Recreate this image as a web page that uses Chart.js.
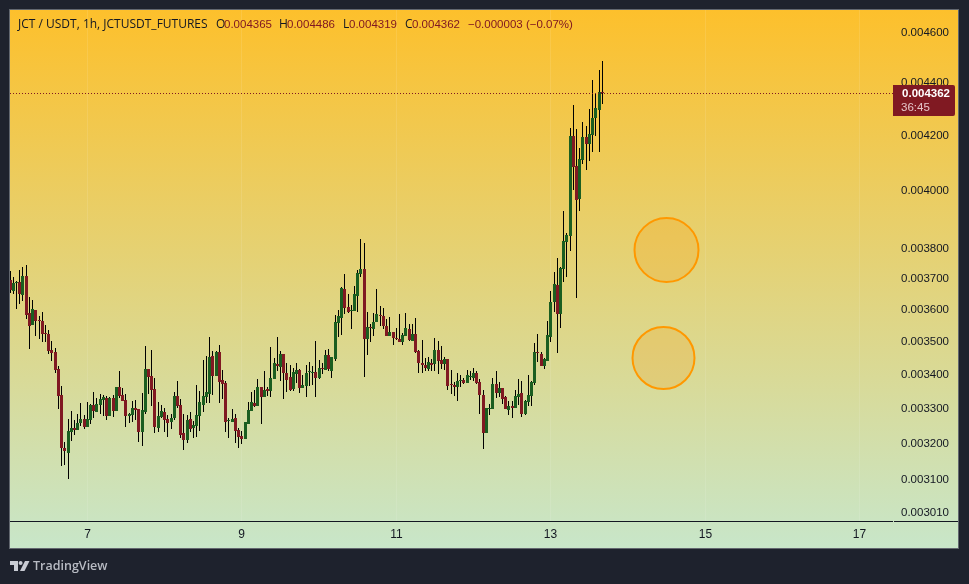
<!DOCTYPE html>
<html>
<head>
<meta charset="utf-8">
<title>JCT / USDT 1h</title>
<script src="https://cdn.jsdelivr.net/npm/chart.js@4"></script>
<style>
  html, body { margin: 0; padding: 0; background: #1e222d; overflow: hidden; }
  canvas { display: block; }
</style>
</head>
<body>
<canvas id="priceChart" width="969" height="584"></canvas>
<script>
// Hourly candles in millionths of a USDT, first candle opens on day 6 at 00:00
const opens = [
  3698,3663,3688,3692,3650,3711,3592,3554,3601,3571,
  3567,3529,3526,3476,3470,3419,3341,3189,3174,3233,
  3245,3239,3259,3271,3248,3268,3311,3291,3311,3326,
  3332,3279,3332,3294,3365,3341,3326,3279,3282,3303,
  3300,3233,3291,3419,3398,3359,3245,3276,3291,3271,
  3262,3274,3338,3311,3231,3211,3271,3245,3251,3279,
  3311,3335,3344,3458,3398,3470,3386,3377,3265,3262,
  3274,3239,3222,3214,3256,3294,3317,3309,3365,3335,
  3359,3353,3389,3434,3425,3464,3407,3395,3359,3404,
  3416,3362,3368,3410,3407,3410,3392,3422,3416,3461,
  3413,3449,3561,3576,3669,3610,3598,3598,3646,3718,
  3734,3510,3548,3541,3564,3586,3583,3551,3520,3532,
  3513,3510,3501,3520,3541,3504,3526,3473,3437,3431,
  3419,3437,3434,3476,3446,3434,3449,3374,3371,3365,
  3383,3386,3377,3395,3392,3407,3380,3341,3231,3300,
  3300,3374,3347,3362,3335,3297,3309,3303,3335,3347,
  3285,3320,3338,3377,3470,3464,3428,3443,3516,3627,
  3682,3589,3734,3824,3845,4200,4090,3972,4112,4196,
  4170,4204,4268,4298,4365
];
const highs = [
  3728,3707,3696,3731,3740,3747,3643,3633,3601,3583,
  3595,3554,3538,3504,3482,3428,3368,3205,3271,3294,
  3268,3285,3317,3282,3320,3314,3350,3332,3344,3341,
  3338,3335,3341,3365,3413,3362,3344,3288,3323,3326,
  3300,3347,3488,3419,3476,3392,3320,3311,3303,3282,
  3285,3350,3383,3329,3285,3282,3291,3265,3371,3353,
  3446,3458,3516,3473,3473,3491,3416,3383,3274,3300,
  3285,3245,3236,3262,3320,3350,3356,3389,3365,3413,
  3365,3485,3452,3516,3473,3464,3437,3431,3422,3437,
  3419,3401,3431,3440,3428,3504,3446,3437,3476,3479,
  3455,3586,3601,3676,3718,3653,3617,3679,3731,3834,
  3821,3595,3557,3592,3669,3614,3607,3573,3579,3532,
  3545,3589,3529,3592,3557,3557,3576,3476,3507,3452,
  3455,3449,3513,3504,3488,3455,3449,3416,3380,3407,
  3401,3392,3416,3413,3422,3413,3389,3356,3303,3314,
  3392,3413,3380,3362,3338,3323,3323,3356,3389,3383,
  3326,3401,3383,3498,3526,3470,3452,3567,3663,3724,
  3771,3741,3931,3855,4230,4317,4226,4155,4252,4237,
  4302,4413,4362,4452,4486
];
const lows = [
  3655,3653,3604,3620,3631,3573,3479,3554,3520,3510,
  3501,3501,3464,3443,3407,3300,3138,3141,3102,3208,
  3225,3239,3251,3242,3248,3256,3274,3291,3285,3279,
  3268,3279,3276,3294,3332,3323,3248,3259,3262,3268,
  3205,3194,3285,3344,3309,3231,3233,3274,3233,3220,
  3242,3268,3303,3217,3183,3202,3233,3217,3220,3236,
  3291,3317,3317,3341,3398,3317,3329,3233,3217,3262,
  3202,3189,3200,3214,3256,3294,3306,3309,3256,3335,
  3338,3335,3389,3413,3383,3329,3350,3353,3353,3377,
  3347,3362,3335,3368,3371,3335,3389,3404,3416,3413,
  3392,3443,3516,3523,3589,3592,3541,3598,3595,3708,
  3395,3461,3501,3520,3564,3551,3541,3520,3520,3491,
  3507,3501,3491,3520,3504,3504,3467,3407,3407,3413,
  3413,3413,3413,3404,3419,3416,3356,3344,3338,3323,
  3365,3374,3377,3386,3383,3374,3285,3186,3231,3282,
  3300,3332,3335,3314,3300,3282,3274,3303,3311,3276,
  3282,3309,3309,3371,3440,3428,3419,3443,3501,3595,
  3467,3545,3692,3708,3795,4004,3640,3931,4098,4076,
  4108,4141,4200,4141,4319
];
const closes = [
  3664,3689,3692,3653,3711,3586,3551,3604,3568,3567,
  3526,3526,3473,3467,3416,3338,3189,3180,3236,3245,
  3239,3259,3271,3248,3271,3311,3294,3314,3329,3335,
  3279,3332,3294,3365,3338,3323,3279,3285,3303,3297,
  3233,3297,3419,3395,3356,3248,3279,3294,3268,3259,
  3274,3338,3309,3225,3211,3268,3242,3253,3282,3320,
  3338,3350,3455,3398,3470,3380,3374,3262,3268,3271,
  3236,3220,3214,3262,3297,3320,3309,3365,3335,3356,
  3353,3392,3437,3428,3464,3407,3386,3356,3410,3416,
  3362,3371,3407,3413,3410,3392,3422,3419,3461,3419,
  3455,3564,3583,3673,3607,3595,3601,3653,3721,3734,
  3510,3548,3545,3564,3589,3583,3551,3520,3532,3513,
  3510,3501,3523,3545,3507,3526,3470,3437,3431,3422,
  3440,3431,3476,3443,3434,3449,3368,3371,3365,3383,
  3386,3377,3401,3398,3407,3377,3341,3231,3303,3303,
  3374,3347,3362,3329,3300,3309,3303,3338,3344,3285,
  3323,3341,3380,3470,3467,3428,3449,3523,3627,3685,
  3589,3737,3828,3848,4200,4087,3969,4116,4196,4170,
  4207,4268,4306,4367,4362
];

const dayTicks = [7, 9, 11, 13, 15, 17];
const priceTicks = [0.0046, 0.0044, 0.0042, 0.004, 0.0038, 0.0037, 0.0036, 0.0035, 0.0034, 0.0033, 0.0032, 0.0031, 0.00301];

// Highlighted zones: day, price
const zoneDays = [14.5, 14.456];
const zonePrices = [0.003796, 0.003453];

const GREEN = '#1b5e20';
const RED = '#801922';
const INK = '#131722';
const AXIS_FONT = '"Liberation Sans", sans-serif';

const micro = v => v / 1e6;
const dayOf = i => 6 + i / 24;
const fmt = v => micro(v).toFixed(6);

const wickData = highs.map((h, i) => ({ x: dayOf(i), y: [micro(lows[i]), micro(h)] }));
const bodyData = opens.map((o, i) => ({
  x: dayOf(i),
  y: [micro(Math.min(o, closes[i])), micro(Math.max(o, closes[i]))]
}));
const bodyColors = opens.map((o, i) => (closes[i] >= o ? GREEN : RED));

// Snap the candles to whole pixels so wicks stay one pixel wide
const snapPlugin = {
  id: 'snap',
  beforeLayout(chart) {
    const { x, y } = chart.scales;
    if (!x || x.$snapped) return;
    const px = x.getPixelForValue.bind(x);
    const py = y.getPixelForValue.bind(y);
    x.getPixelForValue = v => Math.floor(px(v)) + 0.5;
    y.getPixelForValue = v => Math.round(py(v));
    x.$snapped = true;
  }
};

// Panel background with the vertical gradient, covers the axes as well
const panelPlugin = {
  id: 'panel',
  beforeDraw(chart) {
    const ctx = chart.ctx;
    const grad = ctx.createLinearGradient(0, 10, 0, 548);
    grad.addColorStop(0, '#fdc02c');
    grad.addColorStop(1, '#c8e6c9');
    ctx.save();
    ctx.fillStyle = '#1e222d';
    ctx.fillRect(0, 0, chart.width, chart.height);
    ctx.fillStyle = grad;
    ctx.fillRect(10, 10, 948, 538);
    ctx.strokeStyle = '#62676f';
    ctx.lineWidth = 1;
    ctx.strokeRect(9.5, 9.5, 949, 539);
    ctx.restore();
  }
};

function drawLogo(ctx) {
  ctx.fillStyle = '#c9ccd4';
  ctx.beginPath();
  ctx.moveTo(10, 561); ctx.lineTo(18, 561); ctx.lineTo(18, 571); ctx.lineTo(14, 571);
  ctx.lineTo(14, 565); ctx.lineTo(10, 565);
  ctx.closePath();
  ctx.fill();
  ctx.beginPath();
  ctx.arc(20.6, 563, 2, 0, Math.PI * 2);
  ctx.fill();
  ctx.beginPath();
  ctx.moveTo(25, 561); ctx.lineTo(29.5, 561); ctx.lineTo(24.5, 571); ctx.lineTo(20, 571);
  ctx.closePath();
  ctx.fill();
}

// Header line, last price line and tag, time axis rule, logo
const overlayPlugin = {
  id: 'overlay',
  afterDraw(chart) {
    const ctx = chart.ctx;
    const last = closes.length - 1;
    const lastY = chart.scales.y.getPixelForValue(micro(closes[last]));
    ctx.save();

    ctx.fillStyle = INK;
    ctx.fillRect(10, 521, 883, 1);
    ctx.fillRect(894, 521, 64, 1);

    ctx.strokeStyle = RED;
    ctx.setLineDash([1, 2]);
    ctx.beginPath();
    ctx.moveTo(10, lastY + 0.5);
    ctx.lineTo(893, lastY + 0.5);
    ctx.stroke();
    ctx.setLineDash([]);

    ctx.fillStyle = RED;
    ctx.beginPath();
    ctx.roundRect(893, lastY - 8, 62, 31, [0, 2, 2, 0]);
    ctx.fill();
    ctx.textBaseline = 'middle';
    ctx.textAlign = 'right';
    ctx.font = 'bold 11.5px ' + AXIS_FONT;
    ctx.fillStyle = '#ffffff';
    ctx.fillText(fmt(closes[last]), 950, lastY + 0.5);
    ctx.textAlign = 'left';
    ctx.font = '11.5px ' + AXIS_FONT;
    ctx.fillStyle = '#e6c6ca';
    ctx.fillText('36:45', 901, lastY + 14.5);

    const labelFont = '12px "Open Sans", sans-serif';
    const numberFont = '11.5px ' + AXIS_FONT;
    const header = [
      ['JCT / USDT, 1h, JCTUSDT_FUTURES', 18, INK, labelFont],
      ['O', 216, INK, labelFont], [fmt(opens[last]), 224, RED, numberFont],
      ['H', 279, INK, labelFont], [fmt(highs[last]), 287, RED, numberFont],
      ['L', 343, INK, labelFont], [fmt(lows[last]), 349, RED, numberFont],
      ['C', 405, INK, labelFont], [fmt(closes[last]), 412, RED, numberFont],
      ['\u22120.000003 (\u22120.07%)', 468, RED, numberFont]
    ];
    header.forEach(([text, x, color, font]) => {
      ctx.font = font;
      ctx.fillStyle = color;
      ctx.fillText(text, x, 25);
    });

    drawLogo(ctx);
    ctx.font = '600 12.5px "Open Sans", sans-serif';
    ctx.fillStyle = '#b8bbc3';
    ctx.fillText('TradingView', 33, 566.5);
    ctx.restore();
  }
};

new Chart(document.getElementById('priceChart'), {
  type: 'bar',
  data: {
    datasets: [
      {
        type: 'bubble',
        label: 'Zones',
        data: zoneDays.map((d, i) => ({ x: d, y: zonePrices[i], r: i === 0 ? 32 : 31 })),
        backgroundColor: 'rgba(255, 152, 0, 0.2)',
        borderColor: '#ff9800',
        borderWidth: 2,
        hoverRadius: 0,
        order: 1
      },
      {
        label: 'Body',
        data: bodyData,
        backgroundColor: bodyColors,
        barThickness: 3,
        minBarLength: 1,
        grouped: false,
        inflateAmount: 0,
        borderWidth: 0,
        order: 2
      },
      {
        label: 'Wick',
        data: wickData,
        backgroundColor: '#000000',
        barThickness: 1,
        grouped: false,
        inflateAmount: 0,
        borderWidth: 0,
        order: 3
      }
    ]
  },
  options: {
    responsive: false,
    animation: false,
    layout: { autoPadding: false, padding: { left: 10, top: 10, right: 11, bottom: 36 } },
    plugins: {
      legend: { display: false },
      title: { display: false },
      tooltip: { enabled: false }
    },
    scales: {
      x: {
        type: 'linear',
        offset: false,
        bounds: 'data',
        min: 5.999,
        max: 17.43,
        border: { display: false },
        grid: { color: 'rgba(255, 255, 255, 0.1)', drawTicks: false, offset: false },
        afterBuildTicks: scale => { scale.ticks = dayTicks.map(v => ({ value: v })); },
        afterFit: scale => {
          scale.height = 27;
          scale.paddingLeft = 0;
          scale.paddingRight = 0;
        },
        ticks: {
          autoSkip: false,
          maxRotation: 0,
          padding: 6,
          color: INK,
          font: { family: AXIS_FONT, size: 12 },
          callback: v => String(v)
        }
      },
      y: {
        type: 'logarithmic',
        position: 'right',
        bounds: 'data',
        min: 0.002989,
        max: 0.004694,
        border: { display: false },
        grid: { display: false, drawTicks: false },
        afterBuildTicks: scale => { scale.ticks = priceTicks.map(v => ({ value: v })); },
        afterFit: scale => {
          scale.width = 65;
          scale.paddingTop = 0;
          scale.paddingBottom = 0;
        },
        ticks: {
          autoSkip: false,
          padding: 8,
          crossAlign: 'near',
          color: INK,
          font: { family: AXIS_FONT, size: 11.5 },
          callback: v => v.toFixed(6)
        }
      }
    }
  },
  plugins: [snapPlugin, panelPlugin, overlayPlugin]
});
</script>
</body>
</html>
